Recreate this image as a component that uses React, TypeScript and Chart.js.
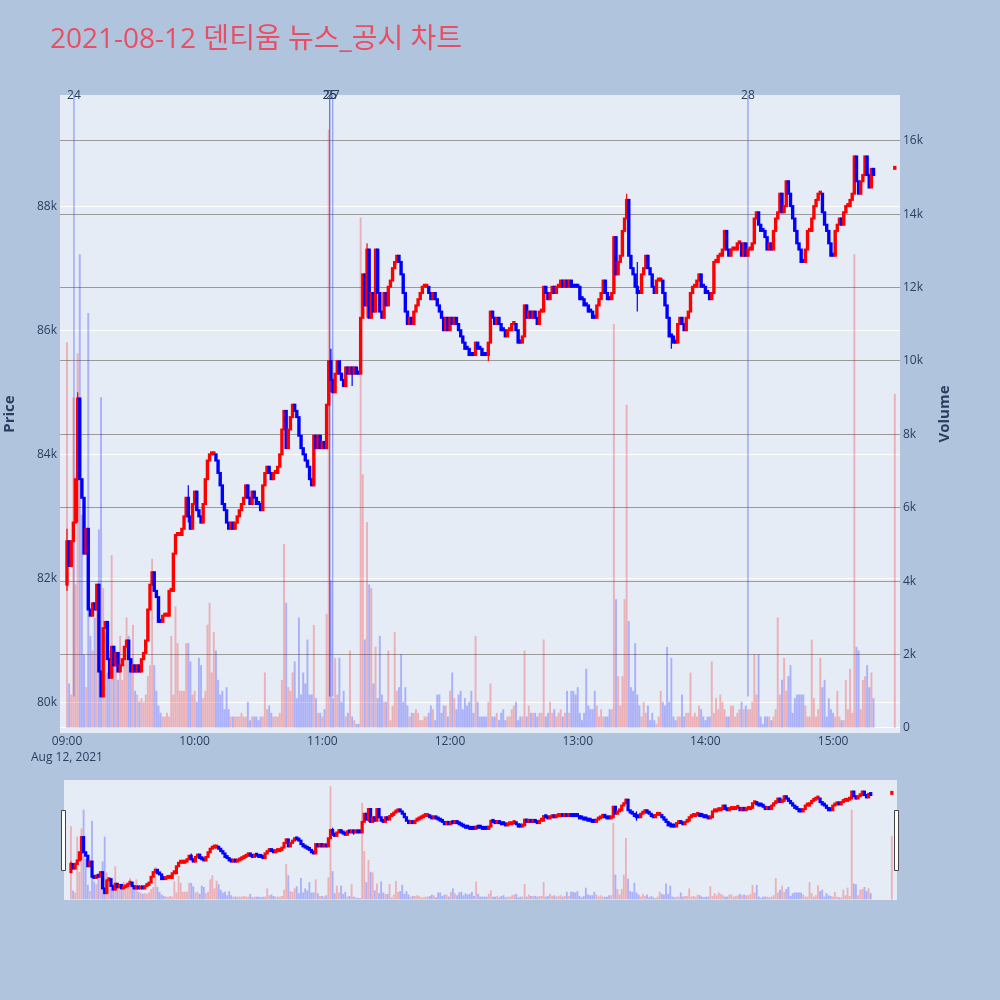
import React, { useEffect, useRef } from 'react';
import { Chart, registerables } from 'chart.js';

Chart.register(...registerables);

// ---------------- data ----------------
const TITLE = '2021-08-12 덴티움 뉴스_공시 차트';
const SESSION_DATE = 'Aug 12, 2021';
const SESSION_OPEN = '09:00';
const BAR_MINUTES = 1;
const PRICE_UNIT = 100; // prices below are in units of 100 KRW
const VOLUME_UNIT = 100; // volumes below are in units of 100 shares
const FIRST_OPEN = 819;

// one close per minute from 09:00 (rows of 10 minutes)
const CLOSES = [
  826, 822, 826, 829, 836, 849, 836, 833, 824, 828,
  815, 814, 816, 815, 819, 805, 801, 812, 813, 807,
  804, 809, 806, 808, 805, 806, 807, 809, 810, 807,
  805, 806, 805, 806, 805, 807, 808, 810, 815, 819,
  821, 818, 817, 813, 813, 814, 814, 814, 818, 818,
  824, 827, 827, 827, 828, 830, 833, 830, 828, 832,
  834, 831, 830, 829, 832, 836, 839, 840, 840, 840,
  839, 837, 835, 832, 831, 829, 828, 829, 828, 829,
  830, 831, 832, 833, 835, 833, 832, 834, 833, 832,
  832, 831, 835, 837, 838, 837, 836, 837, 837, 838,
  840, 844, 847, 841, 844, 846, 848, 847, 846, 843,
  841, 840, 839, 838, 836, 835, 843, 841, 843, 841,
  842, 841, 848, 855, 852, 850, 853, 855, 853, 852,
  851, 854, 853, 854, 853, 854, 853, 853, 862, 869,
  864, 873, 862, 866, 863, 873, 866, 863, 862, 866,
  864, 867, 868, 870, 871, 872, 871, 869, 866, 863,
  861, 862, 861, 863, 864, 865, 866, 867, 867, 867,
  866, 865, 866, 865, 864, 863, 862, 860, 862, 860,
  862, 861, 862, 861, 860, 859, 858, 857, 857, 856,
  856, 856, 858, 857, 857, 856, 856, 856, 858, 863,
  862, 861, 862, 861, 860, 860, 859, 860, 860, 861,
  861, 860, 858, 858, 859, 864, 862, 863, 862, 863,
  862, 861, 863, 863, 867, 866, 865, 866, 867, 866,
  867, 867, 868, 867, 868, 867, 868, 867, 867, 867,
  867, 865, 865, 864, 864, 863, 863, 862, 862, 864,
  865, 866, 868, 866, 865, 865, 866, 875, 869, 871,
  872, 876, 878, 881, 872, 870, 869, 867, 866, 866,
  869, 870, 872, 870, 869, 867, 866, 868, 868, 868,
  866, 864, 862, 859, 859, 858, 858, 861, 862, 861,
  860, 862, 863, 866, 867, 867, 868, 869, 867, 867,
  866, 866, 865, 866, 871, 871, 872, 872, 873, 876,
  873, 872, 873, 873, 873, 874, 874, 872, 874, 872,
  873, 873, 874, 878, 879, 877, 876, 876, 875, 873,
  874, 873, 876, 878, 879, 882, 879, 880, 884, 882,
  880, 878, 876, 874, 873, 871, 871, 873, 876, 876,
  878, 880, 881, 882, 882, 879, 877, 876, 874, 872,
  872, 876, 877, 878, 877, 879, 880, 880, 881, 882,
  888, 884, 882, 884, 885, 888, 885, 883, 886, 885,
];

// volume per minute (rows of 10 minutes)
const VOLUMES = [
  105, 12, 9, 90, 39, 102, 129, 58, 20, 11,
  113, 25, 21, 30, 33, 54, 90, 38, 26, 15,
  21, 47, 17, 18, 13, 25, 13, 19, 30, 25,
  17, 28, 10, 9, 7, 8, 7, 9, 14, 17,
  46, 17, 10, 6, 4, 3, 3, 4, 3, 25,
  9, 33, 23, 10, 10, 10, 23, 23, 18, 9,
  10, 7, 19, 17, 8, 10, 28, 34, 15, 26,
  21, 13, 9, 10, 5, 11, 5, 3, 3, 3,
  3, 3, 4, 3, 3, 7, 2, 3, 3, 3,
  2, 3, 3, 15, 5, 6, 4, 3, 3, 3,
  4, 13, 50, 34, 11, 10, 15, 18, 8, 30,
  9, 15, 12, 24, 9, 9, 28, 8, 4, 4,
  3, 5, 31, 163, 40, 8, 19, 9, 19, 7,
  10, 3, 4, 21, 3, 2, 1, 1, 139, 69,
  24, 56, 39, 38, 12, 22, 8, 25, 9, 7,
  7, 21, 2, 6, 26, 10, 11, 20, 7, 11,
  6, 3, 4, 4, 5, 4, 2, 2, 3, 3,
  4, 6, 5, 2, 9, 9, 4, 6, 6, 3,
  10, 15, 8, 5, 9, 10, 5, 8, 6, 7,
  10, 4, 25, 7, 3, 3, 3, 3, 7, 12,
  3, 3, 4, 2, 4, 5, 2, 3, 3, 5,
  6, 7, 2, 3, 3, 21, 3, 6, 4, 4,
  4, 3, 4, 4, 24, 3, 4, 7, 4, 5,
  3, 4, 5, 3, 4, 10, 4, 10, 10, 9,
  11, 4, 2, 4, 16, 6, 5, 5, 10, 6,
  3, 5, 3, 3, 3, 5, 5, 110, 35, 14,
  6, 14, 35, 88, 29, 11, 10, 23, 9, 6,
  3, 7, 4, 6, 2, 4, 2, 1, 3, 10,
  7, 6, 22, 7, 19, 3, 2, 3, 3, 9,
  3, 4, 4, 15, 3, 4, 3, 6, 5, 3,
  2, 3, 3, 18, 4, 8, 5, 9, 7, 5,
  3, 3, 6, 6, 3, 4, 5, 7, 5, 6,
  5, 5, 7, 20, 9, 20, 3, 1, 3, 3,
  3, 2, 3, 5, 30, 9, 13, 19, 10, 14,
  17, 4, 8, 9, 9, 9, 9, 6, 3, 3,
  24, 8, 3, 5, 19, 11, 13, 3, 8, 5,
  4, 3, 10, 3, 2, 2, 13, 5, 16, 4,
  129, 22, 21, 5, 13, 14, 17, 11, 15, 8,
];

const AUCTION_TIME = '15:29';
const AUCTION_PRICE = 886;
const AUCTION_VOLUME = 91;

// candle shadows that reach beyond the body
const WICK_TIMES = ['09:00', '09:05', '09:57', '11:04', '11:14', '11:21', '12:18', '13:23', '13:28', '13:44', '15:10', '15:15'];
const WICK_LOWS = [818, 829, 829, 850, 851, 862, 855, 878, 863, 857, 882, 885];
const WICK_HIGHS = [828, 850, 835, 857, 854, 874, 858, 882, 871, 859, 888, 888];

// news / disclosure events
const EVENT_TIMES = ['09:03:17', '11:03:27', '11:03:27', '11:04:52', '14:20:00'];
const EVENT_LABELS = ['24', '25', '26', '27', '28'];

const TIME_TICKS = ['09:00', '10:00', '11:00', '12:00', '13:00', '14:00', '15:00'];
const PRICE_TICKS = [80000, 82000, 84000, 86000, 88000];
const VOLUME_TICKS = [0, 2000, 4000, 6000, 8000, 10000, 12000, 14000, 16000];
const TIME_RANGE = ['08:56:43', '15:31:27'];
const PRICE_RANGE = [79510, 89790];
const VOLUME_RANGE = [-140, 17250];

// ---------------- style ----------------
const PAGE_BG = '#B0C4DE';
const PLOT_BG = '#E5ECF6';
const UP = '#FF0000';
const DOWN = '#0000FF';
const VOL_UP = 'rgba(255,0,0,0.25)';
const VOL_DOWN = 'rgba(0,0,255,0.25)';
const TEXT = '#2a3f5f';
const TITLE_COLOR = '#E94F64';
const GRID_WHITE = '#FFFFFF';
const GRID_GRAY = '#9a9a9a';
const EVENT_COLOR = 'rgba(70,85,235,0.55)';
const FONT = '"Open Sans", "Noto Sans CJK KR", sans-serif';

Chart.defaults.font.family = FONT;
Chart.defaults.color = TEXT;

const clock = (t: string) => {
  const [h, m, s = '0'] = t.split(':');
  return Number(h) * 60 + Number(m) + Number(s) / 60;
};
const toX = (t: string) => clock(t) - clock(SESSION_OPEN);

type Candle = { x: number; o: number; c: number; up: boolean; v: number };

function buildCandles(): Candle[] {
  const out: Candle[] = [];
  let up = true;
  CLOSES.forEach((c, i) => {
    const o = i === 0 ? FIRST_OPEN : CLOSES[i - 1];
    up = c > o ? true : c < o ? false : up;
    out.push({ x: i * BAR_MINUTES, o: o * PRICE_UNIT, c: c * PRICE_UNIT, up, v: VOLUMES[i] * VOLUME_UNIT });
  });
  const lastClose = CLOSES[CLOSES.length - 1];
  out.push({
    x: toX(AUCTION_TIME),
    o: AUCTION_PRICE * PRICE_UNIT,
    c: AUCTION_PRICE * PRICE_UNIT,
    up: AUCTION_PRICE >= lastClose,
    v: AUCTION_VOLUME * VOLUME_UNIT,
  });
  return out;
}

const CANDLES = buildCandles();
const DAY_LOW = Math.min(...CLOSES, FIRST_OPEN, ...WICK_LOWS) * PRICE_UNIT;

function makeDatasets(bodyW: number, volW: number): any[] {
  const dirAt = (x: number) => {
    const k = CANDLES.find((c) => Math.abs(c.x - x) < 1e-6);
    return k ? k.up : true;
  };
  return [
    {
      type: 'bar',
      label: 'Volume',
      yAxisID: 'y1',
      order: 3,
      grouped: false,
      data: CANDLES.map((k) => ({ x: k.x, y: k.v })),
      backgroundColor: CANDLES.map((k) => (k.up ? VOL_UP : VOL_DOWN)),
      barThickness: volW,
      borderWidth: 0,
    },
    {
      type: 'bar',
      label: 'Wick',
      yAxisID: 'y',
      order: 2,
      grouped: false,
      data: WICK_TIMES.map((t, i) => ({ x: toX(t), y: [WICK_LOWS[i] * PRICE_UNIT, WICK_HIGHS[i] * PRICE_UNIT] })),
      backgroundColor: WICK_TIMES.map((t) => (dirAt(toX(t)) ? UP : DOWN)),
      barThickness: 1.2,
      borderWidth: 0,
      inflateAmount: 0,
    },
    {
      type: 'bar',
      label: 'Price',
      yAxisID: 'y',
      order: 1,
      grouped: false,
      data: CANDLES.map((k) => ({ x: k.x, y: [k.o, k.c] })),
      backgroundColor: CANDLES.map((k) => (k.up ? UP : DOWN)),
      barThickness: bodyW,
      minBarLength: 2,
      inflateAmount: 1,
      borderWidth: 0,
    },
  ];
}

const bgPlugin = {
  id: 'plotBg',
  beforeDraw(chart: any) {
    const { ctx, chartArea: a } = chart;
    ctx.save();
    ctx.fillStyle = PLOT_BG;
    ctx.fillRect(a.left, a.top, a.right - a.left, a.bottom - a.top);
    ctx.restore();
  },
};

const mainExtras = {
  id: 'mainExtras',
  beforeDatasetsDraw(chart: any) {
    const { ctx, chartArea: a, scales } = chart;
    const bottom = scales.y.getPixelForValue(DAY_LOW);
    ctx.save();
    ctx.strokeStyle = EVENT_COLOR;
    ctx.lineWidth = 1.2;
    EVENT_TIMES.forEach((t) => {
      const px = scales.x.getPixelForValue(toX(t));
      ctx.beginPath();
      ctx.moveTo(px, a.top);
      ctx.lineTo(px, bottom);
      ctx.stroke();
    });
    ctx.restore();
  },
  afterDraw(chart: any) {
    const { ctx, chartArea: a, scales } = chart;
    ctx.save();
    // event labels
    ctx.fillStyle = TEXT;
    ctx.font = `12px ${FONT}`;
    ctx.textAlign = 'center';
    ctx.textBaseline = 'middle';
    EVENT_TIMES.forEach((t, i) => {
      const px = scales.x.getPixelForValue(toX(t));
      ctx.fillText(EVENT_LABELS[i], px, a.top + 1);
    });
    // right axis title
    ctx.font = `bold 15px ${FONT}`;
    ctx.translate(945, (a.top + a.bottom) / 2);
    ctx.rotate(-Math.PI / 2);
    ctx.fillText('Volume', 0, 0);
    ctx.restore();
    // chart title
    ctx.save();
    ctx.fillStyle = TITLE_COLOR;
    ctx.font = `28px ${FONT}`;
    ctx.textAlign = 'left';
    ctx.textBaseline = 'middle';
    ctx.fillText(TITLE, 50, 40);
    ctx.restore();
  },
};

const sliderExtras = {
  id: 'sliderExtras',
  afterDraw(chart: any) {
    const { ctx, chartArea: a } = chart;
    ctx.save();
    ctx.fillStyle = '#FFFFFF';
    ctx.strokeStyle = '#444444';
    ctx.lineWidth = 1;
    const h = (a.bottom - a.top) / 2;
    [a.left, a.right].forEach((px) => {
      ctx.beginPath();
      ctx.rect(Math.round(px) - 2.5, a.top + h / 2 + 0.5, 4, h);
      ctx.fill();
      ctx.stroke();
    });
    ctx.restore();
  },
};

const tickFont = { size: 12, family: FONT };

function mainConfig(): any {
  return {
    type: 'bar',
    data: { datasets: makeDatasets(1.4, 1.3) },
    options: {
      responsive: false,
      animation: false,
      events: [],
      layout: { padding: { top: 95, left: 0, right: 0, bottom: 0 } },
      plugins: { legend: { display: false }, tooltip: { enabled: false }, title: { display: false } },
      scales: {
        x: {
          type: 'linear',
          min: toX(TIME_RANGE[0]),
          max: toX(TIME_RANGE[1]),
          offset: false,
          grid: { display: false, drawTicks: false },
          border: { display: false },
          afterBuildTicks: (s: any) => {
            s.ticks = TIME_TICKS.map((t) => ({ value: toX(t) }));
          },
          afterFit: (s: any) => {
            s.height = 42;
          },
          ticks: {
            autoSkip: false,
            maxRotation: 0,
            padding: 0,
            color: TEXT,
            font: { ...tickFont, lineHeight: 1.35 },
            callback: (v: number) => {
              const i = TIME_TICKS.findIndex((t) => Math.abs(toX(t) - v) < 1e-6);
              if (i < 0) return '';
              return i === 0 ? [TIME_TICKS[i], SESSION_DATE] : TIME_TICKS[i];
            },
          },
        },
        y: {
          type: 'linear',
          position: 'left',
          min: PRICE_RANGE[0],
          max: PRICE_RANGE[1],
          grid: { color: GRID_WHITE, lineWidth: 1, drawTicks: false },
          border: { display: false },
          afterBuildTicks: (s: any) => {
            s.ticks = PRICE_TICKS.map((v) => ({ value: v }));
          },
          afterFit: (s: any) => {
            s.width = 60;
          },
          ticks: { padding: 3, color: TEXT, font: tickFont, callback: (v: number) => `${v / 1000}k` },
          title: {
            display: true,
            text: 'Price',
            color: TEXT,
            font: { size: 15, weight: 'bold', family: FONT },
            padding: { top: 1, bottom: 0 },
          },
        },
        y1: {
          type: 'linear',
          position: 'right',
          min: VOLUME_RANGE[0],
          max: VOLUME_RANGE[1],
          grid: {
            color: (c: any) => (c.tick && c.tick.value === 0 ? GRID_WHITE : GRID_GRAY),
            lineWidth: 1,
            drawTicks: false,
          },
          border: { display: false },
          afterBuildTicks: (s: any) => {
            s.ticks = VOLUME_TICKS.map((v) => ({ value: v }));
          },
          afterFit: (s: any) => {
            s.width = 100;
          },
          ticks: {
            padding: 3,
            color: TEXT,
            font: tickFont,
            callback: (v: number) => (v === 0 ? '0' : `${v / 1000}k`),
          },
        },
      },
    },
    plugins: [bgPlugin, mainExtras],
  };
}

function sliderConfig(): any {
  return {
    type: 'bar',
    data: { datasets: makeDatasets(1.2, 1.2) },
    options: {
      responsive: false,
      animation: false,
      events: [],
      layout: { padding: { top: 5, left: 64, right: 103, bottom: 5 } },
      plugins: { legend: { display: false }, tooltip: { enabled: false } },
      scales: {
        x: { type: 'linear', display: false, offset: false, min: toX(TIME_RANGE[0]), max: toX(TIME_RANGE[1]) },
        y: { type: 'linear', display: false, min: PRICE_RANGE[0], max: PRICE_RANGE[1] },
        y1: { type: 'linear', display: false, position: 'right', min: VOLUME_RANGE[0], max: VOLUME_RANGE[1] },
      },
    },
    plugins: [bgPlugin, sliderExtras],
  };
}

export default function App() {
  const mainRef = useRef<HTMLCanvasElement>(null);
  const sliderRef = useRef<HTMLCanvasElement>(null);

  useEffect(() => {
    const main = new Chart(mainRef.current as HTMLCanvasElement, mainConfig());
    const slider = new Chart(sliderRef.current as HTMLCanvasElement, sliderConfig());
    return () => {
      main.destroy();
      slider.destroy();
    };
  }, []);

  return (
    <div
      style={{
        position: 'fixed',
        left: 0,
        top: 0,
        width: 1000,
        height: 1000,
        background: PAGE_BG,
        overflow: 'hidden',
      }}
    >
      <canvas
        ref={mainRef}
        width={1000}
        height={775}
        style={{ position: 'absolute', left: 0, top: 0, width: 1000, height: 775 }}
      />
      <canvas
        ref={sliderRef}
        width={1000}
        height={130}
        style={{ position: 'absolute', left: 0, top: 775, width: 1000, height: 130 }}
      />
    </div>
  );
}
